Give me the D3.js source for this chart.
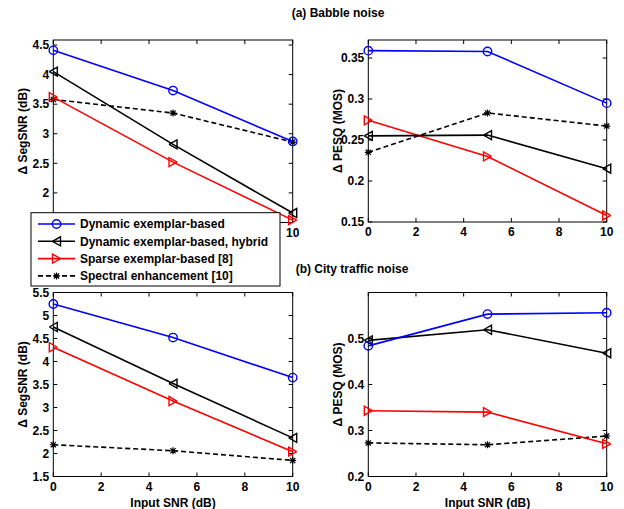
<!DOCTYPE html>
<style>
    body{ margin:0; background:#fff; }
    svg{ font-family:"Liberation Sans",Arial,sans-serif; font-weight:bold; }
</style>
<svg width="624" height="509"></svg>
<script src="https://d3js.org/d3.v7.min.js"></script>
<script>
    var snr=[0,5,10];
    var xTicks=[0,2,4,6,8,10];
    var names=["Dynamic exemplar-based","Dynamic exemplar-based, hybrid","Sparse exemplar-based [8]","Spectral enhancement [10]"];

    // (a) babble noise
    var babbleSeg=[[4.41,3.73,2.87],[4.05,2.82,1.66],[3.62,2.52,1.54],[3.58,3.35,2.86]];
    var babblePesq=[[0.359,0.358,0.295],[0.255,0.256,0.215],[0.274,0.230,0.158],[0.235,0.283,0.267]];
    // (b) city traffic noise
    var citySeg=[[5.25,4.52,3.65],[4.75,3.52,2.34],[4.31,3.14,2.04],[2.19,2.06,1.85]];
    var cityPesq=[[0.484,0.553,0.556],[0.496,0.519,0.468],[0.343,0.340,0.271],[0.273,0.269,0.288]];

    var segTicksA=[2,2.5,3,3.5,4,4.5];
    var pesqTicksA=[0.15,0.2,0.25,0.3,0.35];
    var segTicksB=[1.5,2,2.5,3,3.5,4,4.5,5,5.5];
    var pesqTicksB=[0.2,0.3,0.4,0.5];

    var colors=["#0000ff","#000000","#ff0000","#000000"];
    var svg=d3.select("svg");

    var triL=d3.line()([[-4,0],[4,-4.5],[4,4.5],[-4,0]]);
    var triR=d3.line()([[4,0],[-4,-4.5],[-4,4.5],[4,0]]);
    var star="M-3.5,0H3.5M0,-3.5V3.5M-2.6,-2.6L2.6,2.6M-2.6,2.6L2.6,-2.6";

    function marker(g,i,x,y){
        if(i==0){
            g.append("circle").attr("cx",x).attr("cy",y).attr("r",4.2)
                .attr("fill","none").attr("stroke",colors[i]).attr("stroke-width",1.4);
        }else{
            g.append("path").attr("transform","translate("+x+","+y+")")
                .attr("d",i==1?triL:(i==2?triR:star))
                .attr("fill","none").attr("stroke",colors[i]).attr("stroke-width",i==3?1.2:1.4);
        }
    }

    // hideBelow: x tick labels left of this pixel are covered by the legend
    function panel(x0,x1,y0,y1,ydom,yticks,series,ylabel,xlabel,fmt,hideBelow){
        var x=d3.scaleLinear().domain([0,10]).range([x0,x1]);
        var y=d3.scaleLinear().domain(ydom).range([y1,y0]);
        var g=svg.append("g");

        g.append("rect").attr("x",x0).attr("y",y0).attr("width",x1-x0).attr("height",y1-y0)
            .attr("fill","#fff").attr("stroke","#000").attr("stroke-width",1);

        // inward ticks on all sides
        xTicks.forEach(function(t){
            g.append("line").attr("x1",x(t)).attr("x2",x(t)).attr("y1",y1).attr("y2",y1-4).attr("stroke","#000");
            g.append("line").attr("x1",x(t)).attr("x2",x(t)).attr("y1",y0).attr("y2",y0+4).attr("stroke","#000");
            if(!hideBelow || x(t)>hideBelow){
                g.append("text").attr("x",x(t)).attr("y",y1+14).attr("text-anchor","middle")
                    .attr("font-size",12).text(t);
            }
        });
        yticks.forEach(function(t){
            g.append("line").attr("x1",x0).attr("x2",x0+4).attr("y1",y(t)).attr("y2",y(t)).attr("stroke","#000");
            g.append("line").attr("x1",x1).attr("x2",x1-4).attr("y1",y(t)).attr("y2",y(t)).attr("stroke","#000");
            g.append("text").attr("x",x0-4).attr("y",y(t)).attr("dy","0.35em").attr("text-anchor","end")
                .attr("font-size",12).text(fmt(t));
        });

        var line=d3.line().x(function(d,i){ return x(snr[i]); }).y(function(d){ return y(d); });
        [3,2,1,0].forEach(function(i){
            g.append("path").attr("d",line(series[i])).attr("fill","none")
                .attr("stroke",colors[i]).attr("stroke-width",1.6)
                .attr("stroke-dasharray",i==3?"5,3":null);
            series[i].forEach(function(v,k){ marker(g,i,x(snr[k]),y(v)); });
        });

        g.append("text").attr("transform","translate("+(x0-31)+","+((y0+y1)/2)+") rotate(-90)")
            .attr("dy","0.35em").attr("text-anchor","middle").attr("font-size",12).text(ylabel);
        if(xlabel){
            g.append("text").attr("x",(x0+x1)/2).attr("y",y1+30).attr("text-anchor","middle")
                .attr("font-size",12).text(xlabel);
        }
    }

    var f1=d3.format("");
    var f2=function(t){ return String(+t.toFixed(2)); };

    panel(53.3,292.7,40,222.5,[1.5,4.585],segTicksA,babbleSeg,"\u0394 SegSNR (dB)",null,f1,280);
    panel(368.3,606.7,40,222,[0.15,0.372],pesqTicksA,babblePesq,"\u0394 PESQ (MOS)",null,f2);
    panel(53.3,292.7,292.5,476.5,[1.5,5.5],segTicksB,citySeg,"\u0394 SegSNR (dB)","Input SNR (dB)",f1);
    panel(368.3,606.7,292.5,476.5,[0.2,0.6],pesqTicksB,cityPesq,"\u0394 PESQ (MOS)","Input SNR (dB)",f2);

    svg.append("text").attr("x",338).attr("y",17).attr("text-anchor","middle").attr("font-size",12).text("(a) Babble noise");
    svg.append("text").attr("x",352).attr("y",273).attr("text-anchor","middle").attr("font-size",12).text("(b) City traffic noise");

    // legend
    var leg=svg.append("g");
    leg.append("rect").attr("x",31).attr("y",212.7).attr("width",249).attr("height",73.3)
        .attr("fill","#fff").attr("stroke","#000").attr("stroke-width",1);
    names.forEach(function(n,i){
        var ly=224+i*17.3;
        leg.append("line").attr("x1",38).attr("x2",75).attr("y1",ly).attr("y2",ly)
            .attr("stroke",colors[i]).attr("stroke-width",1.6).attr("stroke-dasharray",i==3?"5,3":null);
        marker(leg,i,56.5,ly);
        leg.append("text").attr("x",80).attr("y",ly).attr("dy","0.35em").attr("font-size",12).text(n);
    });
</script>
